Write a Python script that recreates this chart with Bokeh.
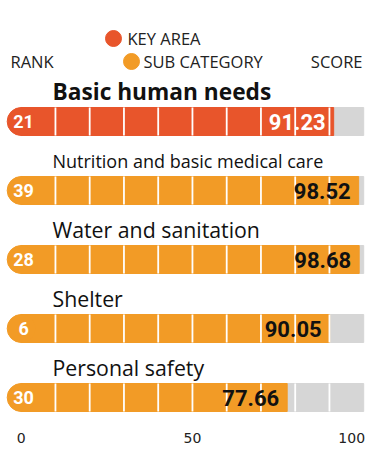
from bokeh.plotting import figure
from bokeh.models import Range1d
from bokeh.core.properties import value
from bokeh.embed import file_html
from bokeh.resources import INLINE

# ---- data ----
categories = ["Basic human needs", "Nutrition and basic medical care",
              "Water and sanitation", "Shelter", "Personal safety"]
ranks = [21, 39, 28, 6, 30]
scores = [91.23, 98.52, 98.68, 90.05, 77.66]
kinds = ["key", "sub", "sub", "sub", "sub"]
tick_values = [0, 50, 100]
tick_labels = ["0", "50", "100"]

KEY_COLOR = "#E8552B"
SUB_COLOR = "#F29B26"
GRAY = "#D6D6D6"
FONT = "Open Sans"
NUM_FONT = "Roboto"

# ---- layout (pixel mapping) ----
W, H = 371, 451
X0_PX = 20.7       # px of value 0
PX_PER = 3.425     # px per unit of score
ROW0 = 121         # px of first bar center
ROW_H = 69         # px between bars
BAR_PX = 28

def xpx(px):
    return (px - X0_PX) / PX_PER

def ypx(py):
    return (py - ROW0) / ROW_H

p = figure(width=W, height=H, output_backend="svg", toolbar_location=None,
           x_range=Range1d(-X0_PX / PX_PER, (W - X0_PX) / PX_PER),
           y_range=Range1d((H - ROW0) / ROW_H, -ROW0 / ROW_H),
           min_border=0, outline_line_color=None)
p.axis.visible = False
p.grid.visible = False
p.background_fill_color = "white"
p.border_fill_color = "white"

rows = list(range(len(categories)))
colors = [KEY_COLOR if k == "key" else SUB_COLOR for k in kinds]
bh = BAR_PX / ROW_H

# gray background track
p.hbar(y=rows, left=0, right=100, height=bh, color=GRAY)
# value bars
p.hbar(y=rows, left=0, right=scores, height=bh, color=colors)
# rounded left cap
p.scatter(x=[0] * len(rows), y=rows, size=BAR_PX, color=colors, marker="circle")

# white separators every 10 units
sx, sy0, sy1 = [], [], []
for r in rows:
    for t in range(10, 100, 10):
        sx.append(t); sy0.append(r - bh / 2); sy1.append(r + bh / 2)
p.segment(x0=sx, x1=sx, y0=sy0, y1=sy1, line_color="white", line_width=1.8)

# rank numbers
p.text(x=[0.7] * len(rows), y=rows, text=[str(r) for r in ranks],
       text_color="white", text_font=value(NUM_FONT), text_font_style="bold",
       text_font_size="18px", text_align="center", text_baseline="middle")

# score labels
score_colors = ["white" if k == "key" else "#111111" for k in kinds]
p.text(x=scores, y=rows, text=[f"{s:.2f}" for s in scores], x_offset=-8,
       text_color=score_colors, text_font=value(NUM_FONT), text_font_style="bold",
       text_font_size="22px", text_align="right", text_baseline="middle")

# category labels above bars
lab_y = [r - 30 / ROW_H for r in rows]
p.text(x=[xpx(52)], y=[lab_y[0]], text=[categories[0]], text_color="#111111",
       text_font=value(FONT), text_font_style="bold", text_font_size="22.7px",
       text_align="left", text_baseline="middle")
sub_sizes = ["18px", "21.3px", "21.3px", "21.3px"]
p.text(x=[xpx(52)] * 4, y=lab_y[1:], text=categories[1:], text_color="#111111",
       text_font=value(FONT), text_font_size=sub_sizes,
       text_align="left", text_baseline="middle")

# legend / headers
p.scatter(x=[xpx(113), xpx(131)], y=[ypx(38), ypx(61)], size=16,
          color=[KEY_COLOR, SUB_COLOR], marker="circle")
p.text(x=[xpx(127), xpx(143)], y=[ypx(38), ypx(61)], text=["KEY AREA", "SUB CATEGORY"],
       text_color="#222222", text_font=value(FONT), text_font_size="16.5px",
       text_align="left", text_baseline="middle")
p.text(x=[xpx(10)], y=[ypx(61)], text=["RANK"],
       text_color="#222222", text_font=value(FONT), text_font_size="16.5px",
       text_align="left", text_baseline="middle")
p.text(x=[xpx(362)], y=[ypx(61)], text=["SCORE"],
       text_color="#222222", text_font=value(FONT), text_font_size="16.5px",
       text_align="right", text_baseline="middle")

# score axis labels
p.text(x=tick_values, y=[ypx(437)] * 3, text=tick_labels,
       text_color="#222222", text_font=value("DejaVu Sans"), text_font_size="14px",
       text_align="center", text_baseline="middle", x_offset=[0, 0, -12])

open("out.html", "w").write(file_html(p, INLINE))
